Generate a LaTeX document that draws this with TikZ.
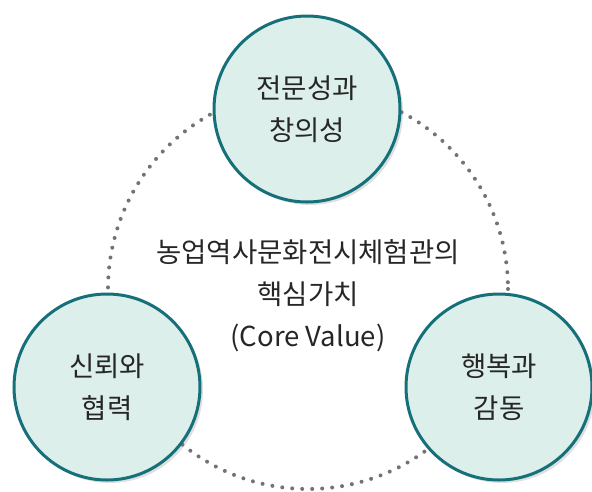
\documentclass[tikz,border=0pt]{standalone}
\usepackage{fontspec}
\setmainfont{Noto Sans CJK KR}
\usetikzlibrary{shadows}
\definecolor{valueteal}{HTML}{16707A}
\definecolor{valuemint}{HTML}{DDEFEA}

\begin{document}
\begin{tikzpicture}[x=1pt,y=-1pt,
        value/.style={circle, draw=valueteal, line width=3pt, fill=valuemint,
            minimum size=186pt, inner sep=0pt, align=center, text=black!85,
            font=\fontsize{27.5}{42}\selectfont,
            drop shadow={shadow xshift=3pt, shadow yshift=-3pt, opacity=0.25}},
        ring/.style={black!55, line width=4pt, line cap=round,
            dash pattern=on 0pt off 10pt}]
        \useasboundingbox (0,0) rectangle (592,491);

        % dotted ring behind the circles
        \draw[ring] (308,289) circle[radius=200];

        % core values
        \node[value] (craft) at (307,109) {전문성과\\창의성};
        \node[value] (trust) at (107,387) {신뢰와\\협력};
        \node[value] (joy) at (499,387) {행복과\\감동};

        % centre title
        \node[align=center, text=black!85, font=\fontsize{27.5}{42}\selectfont]
            (core) at (308,296) {농업역사문화전시체험관의\\핵심가치\\(Core Value)};
    \end{tikzpicture}
\end{document}
